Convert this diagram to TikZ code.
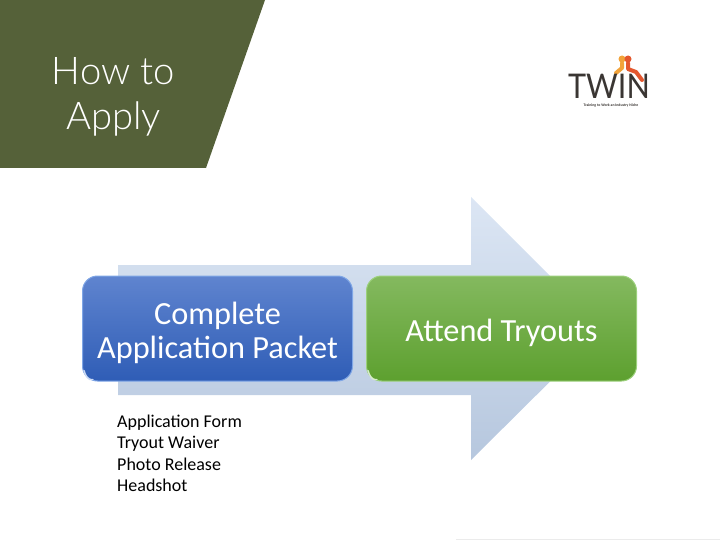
\documentclass[tikz,border=0pt]{standalone}
\usepackage{fontspec}
\setmainfont{Carlito}
\newfontfamily\logofont{Lato}
\newfontfamily\titlefont{Lato Light}
\usetikzlibrary{positioning}
\definecolor{titlegreen}{HTML}{556139}
\definecolor{arrowtop}{HTML}{DCE6F4}
\definecolor{arrowbottom}{HTML}{B6C7DE}
\definecolor{bluetop}{HTML}{5F84CF}
\definecolor{bluebottom}{HTML}{2F5DB6}
\definecolor{blueedge}{HTML}{7FA6E6}
\definecolor{greentop}{HTML}{84B95F}
\definecolor{greenbottom}{HTML}{5DA02F}
\definecolor{greenedge}{HTML}{9CD07C}
\definecolor{logodark}{HTML}{3A3633}
\definecolor{logoorange}{HTML}{F2A33A}
\definecolor{logored}{HTML}{E4572E}
\tikzset{
  stepbox/.style={rounded corners=15pt, minimum width=270pt, minimum height=105pt,
    inner sep=0pt, line width=1pt},
  steplabel/.style={inner sep=0pt, align=center, text=white,
    font=\fontsize{32.3}{34.5}\selectfont},
  listline/.style={anchor=base west, inner sep=0pt, font=\fontsize{18}{20}\selectfont},
  titleline/.style={text=white, inner sep=0pt, font=\titlefont\fontsize{38.2}{46}\selectfont},
  gleam/.style={white!60!#1, line width=1.4pt, line cap=round},
  limb/.style={line width=4pt, line cap=round, line join=round}
}
\begin{document}
\begin{tikzpicture}[x=1pt, y=-1pt]
  \useasboundingbox (0,0) rectangle (720,540);

  % title panel
  \fill [titlegreen] (0,0) -- (265,0) -- (206,168) -- (0,168) -- cycle;
  \node [titleline] (how)   at (113.5,71.5)  {How to};
  \node [titleline] (apply) at (113.5,118.5) {Apply};

  % logo
  \draw [logoorange, limb] (622,63) -- (622,68) -- (616,73);
  \fill [logoorange] (622,59) circle [radius=3.5pt];
  \draw [logored, limb] (628,63) -- (628,69) -- (636,72) -- (642,80);
  \fill [logored] (628,59) circle [radius=3.5pt];
  \node [inner sep=0pt, text=logodark, xscale=0.9, font=\logofont\fontsize{34}{34}\selectfont] (twin) at (609,86.5) {TWIN};
  \node [inner sep=0pt, text=logodark, font=\bfseries\fontsize{3.8}{4}\selectfont] (tagline) at (611,105)
    {Training to Work an Industry Niche};

  % big arrow
  \coordinate (tail top)    at (118,265);
  \coordinate (neck top)    at (471,265);
  \coordinate (head top)    at (471,197);
  \coordinate (tip)         at (603,329);
  \coordinate (head bottom) at (471,460);
  \coordinate (neck bottom) at (471,395);
  \coordinate (tail bottom) at (118,395);
  \shade [top color=arrowtop, bottom color=arrowbottom]
    (tail top) -- (neck top) -- (head top) -- (tip) -- (head bottom)
    -- (neck bottom) -- (tail bottom) -- cycle;

  % steps
  \node [stepbox, draw=blueedge, top color=bluetop, bottom color=bluebottom] (packet) at (217.5,328.5) {};
  \node [stepbox, draw=greenedge, top color=greentop, bottom color=greenbottom] (tryouts) at (501.5,328.5) {};
  \node [steplabel] (packet label)  at (217.5,333) {Complete\\Application Packet};
  \node [steplabel] (tryouts label) at (501.5,333) {Attend Tryouts};
  \draw [gleam=blueedge] ([xshift=2pt, yshift=11pt]packet.south west) .. controls +(1.5,5) and +(-5,1.5) .. ([xshift=11pt, yshift=2pt]packet.south west);
  \draw [gleam=greenedge] ([xshift=2pt, yshift=11pt]tryouts.south west) .. controls +(1.5,5) and +(-5,1.5) .. ([xshift=11pt, yshift=2pt]tryouts.south west);

  % packet contents
  \node [listline] (form)     at (117,427)   {Application Form};
  \node [listline] (waiver)   at (117,448.5) {Tryout Waiver};
  \node [listline] (release)  at (117,470)   {Photo Release};
  \node [listline] (headshot) at (117,491.5) {Headshot};

  % footer rule
  \draw [black!8, line width=0.8pt] (456,539.3) -- (720,539.3);
\end{tikzpicture}
\end{document}
